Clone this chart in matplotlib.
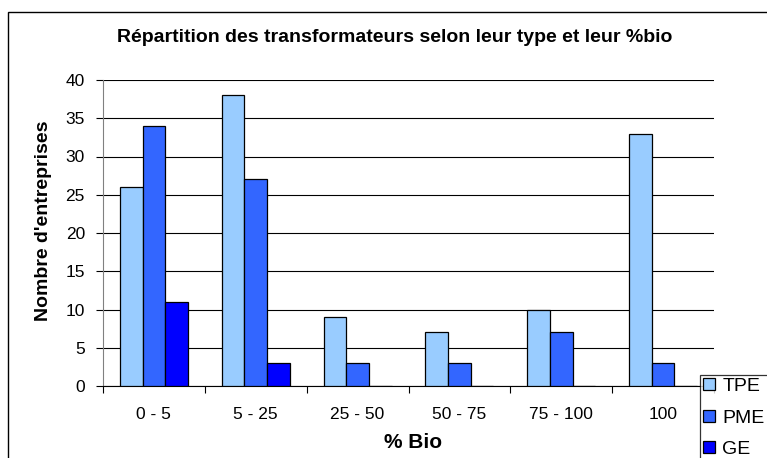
import matplotlib
matplotlib.use("Agg")
import matplotlib.pyplot as plt
import numpy as np
from matplotlib.patches import Rectangle

categories = ["0 - 5", "5 - 25", "25 - 50", "50 - 75", "75 - 100", "100"]
tpe = [26, 38, 9, 7, 10, 33]
pme = [34, 27, 3, 3, 7, 3]
ge = [11, 3, 0, 0, 0, 0]
series_names = ["TPE", "PME", "GE"]
colors = ["#99CCFF", "#3366FF", "#0000FF"]
yticks = [0, 5, 10, 15, 20, 25, 30, 35, 40]

plt.rcParams['font.family'] = ['Liberation Sans', 'DejaVu Sans']

W, H = 767, 458
fig = plt.figure(figsize=(W / 100, H / 100), dpi=100)
ax = fig.add_axes([103 / W, 1 - 386 / H, 611 / W, 306 / H])

# figure border
fig.patches.append(Rectangle((8 / W, -0.2), 1.2, 1.2 - 12 / H,
                             transform=fig.transFigure, fill=False,
                             edgecolor='black', linewidth=1.0))

x = np.arange(len(categories))
w = 1 / 4.5
handles = []
for i, (vals, c, name) in enumerate(zip([tpe, pme, ge], colors, series_names)):
    b = ax.bar(x + (i - 1) * w, vals, width=w, color=c, edgecolor='black',
               linewidth=0.9, label=name, zorder=3)
    handles.append(b)

ax.set_xlim(-0.5, len(categories) - 0.5)
ax.set_ylim(0, 40)
ax.set_yticks(yticks)
ax.yaxis.grid(True, color='black', linewidth=0.8, zorder=0)
ax.set_axisbelow(True)
ax.set_xticks(x)
ax.set_xticklabels(categories, fontsize=12.5)
ax.set_xticks(np.arange(-0.5, len(categories) + 0.5, 1), minor=True)
ax.tick_params(axis='x', which='major', length=0, pad=15)
ax.tick_params(axis='x', which='minor', length=5, direction='out', width=0.8)
ax.tick_params(axis='y', length=5, direction='out', width=0.8, labelsize=12.5, pad=8)
for s in ['top', 'right']:
    ax.spines[s].set_visible(False)
ax.spines['left'].set_color('#808080')
ax.spines['bottom'].set_color('black')

ax.set_ylabel("Nombre d'entreprises", fontsize=14, fontweight='bold')
ax.yaxis.set_label_coords((43 - 103) / 611, (386 - 221) / 306)
ax.set_xlabel("% Bio", fontsize=15, fontweight='bold')
ax.xaxis.set_label_coords((413 - 103) / 611, (386 - 443) / 306)
ax.xaxis.label.set_va('center')
ax.yaxis.label.set_va('center')
fig.text(395 / W, 1 - 38 / H, "Répartition des transformateurs selon leur type et leur %bio",
         ha='center', va='center', fontsize=14, fontweight='bold')

leg = fig.legend(handles=handles, labels=series_names, loc='upper left',
                 bbox_to_anchor=(700 / W, 1 - 375 / H), fontsize=14,
                 frameon=True, fancybox=False, edgecolor='black',
                 handlelength=0.6, handleheight=0.6, handletextpad=0.4,
                 labelspacing=0.75, borderpad=0.15, borderaxespad=0)
leg.get_frame().set_linewidth(0.9)

fig.savefig("out.png", dpi=100)
